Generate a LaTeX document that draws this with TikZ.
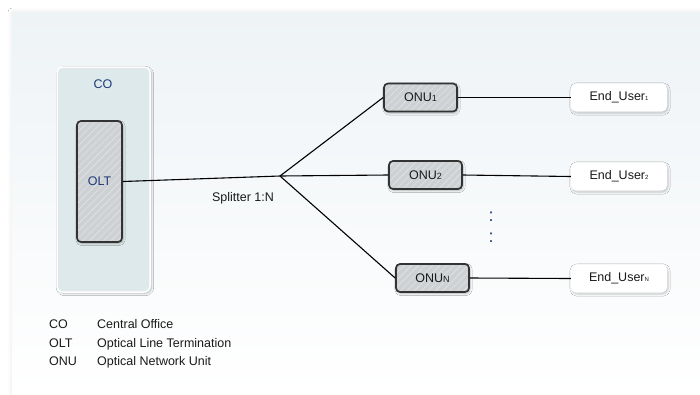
\documentclass[tikz,border=0pt]{standalone}
\usepackage{fontspec}
\setmainfont{Liberation Sans}
\usetikzlibrary{patterns.meta,shadows.blur}

\definecolor{panelTop}{HTML}{EEF3F6}
\definecolor{coFill}{HTML}{DDE9EA}
\definecolor{hwGrey}{HTML}{CDD1D3}
\definecolor{hwHatch}{HTML}{E2E5E6}
\definecolor{hwEdge}{HTML}{333333}
\definecolor{labelBlue}{HTML}{1F3B7A}
\definecolor{inkText}{HTML}{1A1A1A}

\tikzset{
  txt/.style={font=\fontsize{12.5}{15}\selectfont, text=inkText},
  cobox/.style={draw=white, line width=1.5pt, fill=coFill, rounded corners=6pt,
    blur shadow={shadow xshift=1.5pt, shadow yshift=-1.5pt, shadow blur steps=6, shadow opacity=25},
    minimum width=93pt, minimum height=225pt, inner sep=0pt},
  hwbox/.style={blur shadow={shadow xshift=1pt, shadow yshift=-1.5pt, shadow blur steps=5, shadow opacity=28},
    preaction={fill=hwGrey},
    pattern={Lines[angle=45, distance=5pt, line width=0.6pt]}, pattern color=hwHatch,
    draw=hwEdge, line width=1.7pt, rounded corners=4pt, inner sep=0pt, txt},
  onubox/.style={hwbox, minimum width=73pt, minimum height=28pt},
  userbox/.style={fill=white, rounded corners=5pt, inner sep=0pt,
    blur shadow={shadow xshift=1pt, shadow yshift=-1.5pt, shadow blur steps=6, shadow opacity=22},
    minimum width=96pt, minimum height=28pt, txt},
  link/.style={draw=black, line width=1.1pt},
  legend/.style={txt, anchor=base west, inner sep=0pt},
  vdots/.style={font=\fontsize{18}{18}\selectfont, text=labelBlue, inner sep=0pt}
}

\newcommand{\subsmall}[1]{{\fontsize{9}{9}\selectfont #1}}
\newcommand{\subtiny}[1]{{\fontsize{6}{6}\selectfont #1}}

\begin{document}
\begin{tikzpicture}[x=1pt, y=-1pt]
  \useasboundingbox (0,0) rectangle (700,394);
  \fill[white] (0,0) rectangle (700,394);

  % light backdrop panel
  \fill[top color=panelTop, bottom color=white,
        blur shadow={shadow xshift=0pt, shadow yshift=0pt, shadow blur radius=4pt, shadow opacity=10}]
    (12,12) rectangle (700,394);

  % central office with the line terminal inside
  \node[cobox] (co) at (103.5,179.5) {};
  \node[txt, text=labelBlue] (colabel) at (103,84) {CO};
  \node[hwbox, minimum width=45pt, minimum height=121pt, text=labelBlue] (olt) at (99.5,181.5) {OLT};

  % passive splitter point
  \coordinate (sp) at (280,176);
  \node[txt] (splabel) at (243,198) {Splitter 1:N};

  % network units
  \node[onubox] (onu1) at (420.5,97.5) {ONU\subsmall{1}};
  \node[onubox] (onu2) at (425.5,175) {ONU\subsmall{2}};
  \node[onubox] (onun) at (432.5,278) {ONU\subsmall{N}};

  % end users
  \node[userbox] (eu1) at (619,97.5) {End\_User\subtiny{1}};
  \node[userbox] (eu2) at (619,176.5) {End\_User\subtiny{2}};
  \node[userbox] (eun) at (619,278.5) {End\_User\subtiny{N}};

  % fibre links
  \draw[link] (olt.east) -- (sp);
  \draw[link] (sp) -- (onu1.west);
  \draw[link] (sp) -- (onu2.west);
  \draw[link] (sp) -- (onun.west);
  \draw[link] (onu1.east) -- (eu1.west);
  \draw[link] (onu2.east) -- (eu2.west);
  \draw[link] (onun.east) -- (eun.west);

  % continuation marks
  \node[vdots] (dotsa) at (491,217) {:};
  \node[vdots] (dotsb) at (491,238) {:};

  % legend
  \node[legend] (l1a) at (49,328) {CO};
  \node[legend] (l1b) at (97,328) {Central Office};
  \node[legend] (l2a) at (49,347) {OLT};
  \node[legend] (l2b) at (97,347) {Optical Line Termination};
  \node[legend] (l3a) at (49,365) {ONU};
  \node[legend] (l3b) at (97,365) {Optical Network Unit};
\end{tikzpicture}
\end{document}
